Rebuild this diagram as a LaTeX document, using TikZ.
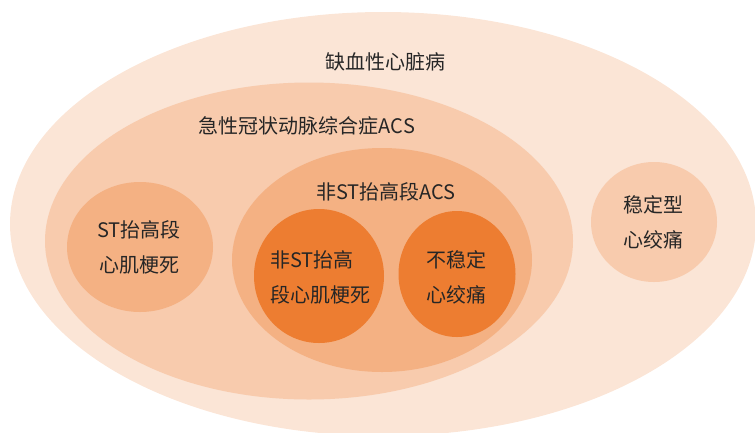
\documentclass[tikz,border=0pt]{standalone}
\usepackage{fontspec}
\setmainfont{Noto Sans CJK SC}
\usetikzlibrary{shapes.geometric}
\definecolor{lvA}{HTML}{FBE5D6}
\definecolor{lvB}{HTML}{F8CBAD}
\definecolor{lvC}{HTML}{F4B183}
\definecolor{lvD}{HTML}{ED7D31}
\definecolor{txt}{HTML}{262626}
\tikzset{
  blob/.style={ellipse, draw=none, inner sep=0pt},
  lbl/.style={text=txt, font=\fontsize{20pt}{35pt}\selectfont, inner sep=0pt, align=center},
}
\begin{document}
\begin{tikzpicture}[x=1pt,y=-1pt]
\useasboundingbox (0,0) rectangle (755,432);
\clip (0,0) rectangle (755,432);
\node[blob, fill=lvA, minimum width=746pt, minimum height=424pt] (ihd) at (383,224) {};
\node[blob, fill=lvB, minimum width=528pt, minimum height=317pt] (acs) at (309,241) {};
\node[blob, fill=lvB, minimum width=126pt, minimum height=120pt] (sa) at (654,222) {};
\node[blob, fill=lvC, minimum width=146pt, minimum height=130pt] (stemi) at (140,247) {};
\node[blob, fill=lvC, minimum width=300pt, minimum height=224pt] (nste) at (382,260) {};
\node[blob, fill=lvD, minimum width=130pt, minimum height=134pt] (nstemi) at (319,276) {};
\node[blob, fill=lvD, minimum width=117pt, minimum height=126pt] (ua) at (457,274) {};

\node[lbl] (tihd) at (385,62) {缺血性心脏病};
\node[lbl] (tacs) at (307,126) {急性冠状动脉综合症ACS};
\node[lbl] (tnste) at (386,192) {非ST抬高段ACS};
\node[lbl] (tstemi) at (139,247) {ST抬高段\\心肌梗死};
\node[lbl, align=left, anchor=west] (tnstemi) at (270,277) {非ST抬高\\段心肌梗死};
\node[lbl] (tua) at (456,277) {不稳定\\心绞痛};
\node[lbl] (tsa) at (653,222) {稳定型\\心绞痛};
\end{tikzpicture}
\end{document}
